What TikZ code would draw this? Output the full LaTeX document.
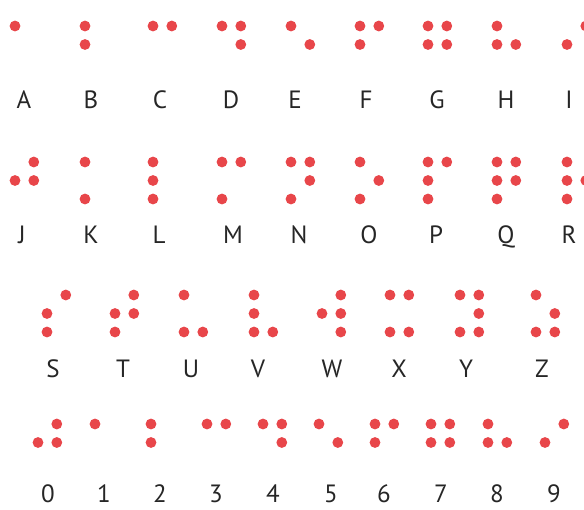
\documentclass[tikz,border=0pt]{standalone}
\usepackage{fontspec}
\setmainfont{PT Sans}
\definecolor{dotred}{HTML}{E8464A}
\tikzset{
  brdot/.style={fill=dotred},
  lab/.style={anchor=base, inner sep=0pt, font=\fontsize{25}{25}\selectfont, text=black!85}
}
% \brl{x}{ytop}{dots}
\newcommand{\brl}[3]{%
  \foreach \d in {#3}{%
    \pgfmathtruncatemacro{\cc}{(\d>3)}%
    \pgfmathtruncatemacro{\rr}{mod(\d-1,3)}%
    \fill[brdot] ({#1+\cc*18.8},{#2+\rr*18.5}) circle (5.4);
  }%
}
\begin{document}
\begin{tikzpicture}[x=1pt,y=-1pt]
\useasboundingbox (0,0) rectangle (584,509);
% Row 1: A-I
\brl{15}{26}{1}
\brl{85}{26}{1,2}
\brl{153}{26}{1,4}
\brl{222}{26}{1,4,5}
\brl{291}{26}{1,5}
\brl{360}{26}{1,2,4}
\brl{428}{26}{1,2,4,5}
\brl{497}{26}{1,2,5}
\brl{567}{26}{2,4}
\node[lab] (lA) at (24,108) {A};
\node[lab] (lB) at (91,108) {B};
\node[lab] (lC) at (160,108) {C};
\node[lab] (lD) at (231,108) {D};
\node[lab] (lE) at (295,108) {E};
\node[lab] (lF) at (366,108) {F};
\node[lab] (lG) at (437,108) {G};
\node[lab] (lH) at (506,108) {H};
\node[lab] (lI) at (569,108) {I};
% Row 2: J-R
\brl{15}{162}{2,4,5}
\brl{85}{162}{1,3}
\brl{153}{162}{1,2,3}
\brl{222}{162}{1,3,4}
\brl{291}{162}{1,3,4,5}
\brl{360}{162}{1,3,5}
\brl{428}{162}{1,2,3,4}
\brl{497}{162}{1,2,3,4,5}
\brl{567}{162}{1,2,3,5}
\node[lab] (lJ) at (22,243) {J};
\node[lab] (lK) at (91,243) {K};
\node[lab] (lL) at (159,243) {L};
\node[lab] (lM) at (233,243) {M};
\node[lab] (lN) at (299,243) {N};
\node[lab] (lO) at (369,243) {O};
\node[lab] (lP) at (436,243) {P};
\node[lab] (lQ) at (506,243) {Q};
\node[lab] (lR) at (569,243) {R};
% Row 3: S-Z
\brl{47}{295}{2,3,4}
\brl{115}{295}{2,3,4,5}
\brl{184}{295}{1,3,6}
\brl{254}{295}{1,2,3,6}
\brl{322}{295}{2,4,5,6}
\brl{390}{295}{1,3,4,6}
\brl{460}{295}{1,3,4,5,6}
\brl{536}{295}{1,3,5,6}
\node[lab] (lS) at (53,377) {S};
\node[lab] (lT) at (123,377) {T};
\node[lab] (lU) at (191,377) {U};
\node[lab] (lV) at (258,377) {V};
\node[lab] (lW) at (332,377) {W};
\node[lab] (lX) at (399,377) {X};
\node[lab] (lY) at (466,377) {Y};
\node[lab] (lZ) at (542,377) {Z};
% Row 4: digits
\brl{38}{424}{2,4,5}
\brl{95}{424}{1}
\brl{151}{424}{1,2}
\brl{207}{424}{1,4}
\brl{263}{424}{1,4,5}
\brl{319}{424}{1,5}
\brl{375}{424}{1,2,4}
\brl{431}{424}{1,2,4,5}
\brl{488}{424}{1,2,5}
\brl{545}{424}{2,4}
\node[lab] (d0) at (48,502) {0};
\node[lab] (d1) at (104,502) {1};
\node[lab] (d2) at (160,502) {2};
\node[lab] (d3) at (216,502) {3};
\node[lab] (d4) at (273,502) {4};
\node[lab] (d5) at (331,502) {5};
\node[lab] (d6) at (384,502) {6};
\node[lab] (d7) at (441,502) {7};
\node[lab] (d8) at (497,502) {8};
\node[lab] (d9) at (554,502) {9};
\end{tikzpicture}
\end{document}
